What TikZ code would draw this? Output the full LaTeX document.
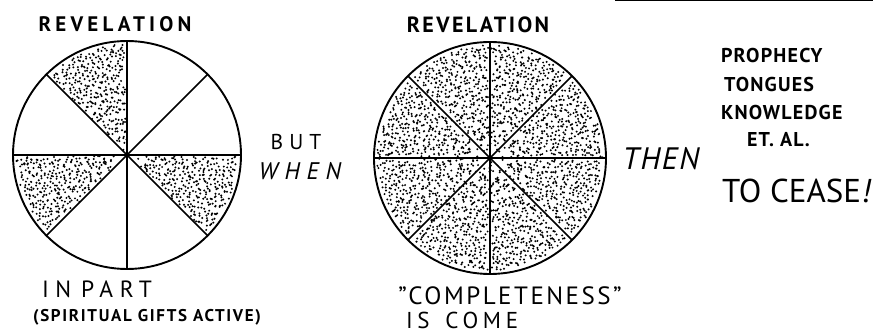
\documentclass[tikz,border=0pt]{standalone}
\usepackage{fontspec}
\setmainfont{PT Sans}
\newcommand\track[1]{\addfontfeature{LetterSpace=#1}}
\begin{document}
\begin{tikzpicture}[
  x=1pt, y=1pt,
  every node/.style={inner sep=0pt, outer sep=0pt},
  word/.style={font=\bfseries\fontsize{20}{22}\selectfont\track{6}},
  hand/.style={font=\fontsize{23}{26}\selectfont\track{18}},
  slant/.style={font=\itshape\fontsize{24}{26}\selectfont\track{28}},
  rim/.style={line width=1.9pt},
  spoke/.style={line width=1.5pt}
]
\useasboundingbox (0,0) rectangle (873,334);
\pgfmathsetseed{4711}

\coordinate (lc) at (127,179);
\coordinate (rc) at (490,176);

% stippled sectors, left circle
\foreach \a in {90,180,315} {
  \begin{scope}
    \clip (lc) -- ++(\a:113) arc[start angle=\a, end angle=\a+45, radius=113] -- cycle;
    \fill[shift={(lc)}] \foreach \k in {1,...,320}
      {({\a+1.5+42*frac(0.5+\k*0.75488+0.06*rnd)}:{111*sqrt(abs(frac(0.5+\k*0.56984+0.06*rnd)))}) circle (1.1)};
  \end{scope}
}
% right circle, every sector
\foreach \a in {0,45,...,315} {
  \begin{scope}
    \clip (rc) -- ++(\a:115) arc[start angle=\a, end angle=\a+45, radius=115] -- cycle;
    \fill[shift={(rc)}] \foreach \k in {1,...,320}
      {({\a+1.5+42*frac(0.5+\k*0.75488+0.06*rnd)}:{113*sqrt(abs(frac(0.5+\k*0.56984+0.06*rnd)))}) circle (1.1)};
  \end{scope}
}

\draw[rim] (lc) circle (114);
\draw[rim] (rc) circle (116);
\foreach \t in {0,45,...,315} {
  \draw[spoke] (lc) -- ++(\t:114);
  \draw[spoke] (rc) -- ++(\t:116);
}

\node[word, font=\bfseries\fontsize{21}{23}\selectfont\track{20}] (revl) at (115,310) {REVELATION};
\node[word, font=\bfseries\fontsize{22}{24}\selectfont\track{11}] (revr) at (478,309) {REVELATION};

\node[hand, font=\fontsize{21.5}{24}\selectfont\track{28}] (but) at (296,192.5) {BUT};
\node[slant] (when) at (300,162.5) {WHEN};

\node[hand, anchor=west, font=\fontsize{23.5}{26}\selectfont\track{28}] (part) at (42,45) {IN\hspace{10pt}PART};
\node[word, anchor=west, font=\bfseries\fontsize{17}{20}\selectfont\track{10}] (gifts) at (33,16.5) {(SPIRITUAL GIFTS ACTIVE)};

\node[hand, font=\fontsize{25}{28}\selectfont\track{10}] (complete) at (510,38) {"COMPLETENESS"};
\node[hand, anchor=west, font=\fontsize{23}{26}\selectfont\track{20}] (come) at (406,13.5) {IS\hspace{16pt}COME};

\node[slant, font=\itshape\fontsize{31}{34}\selectfont\track{5}] (then) at (661,175.5) {THEN};

\node[word, anchor=west] (proph) at (721,278) {PROPHECY};
\node[word, anchor=west] (tong) at (724,249.5) {TONGUES};
\node[word, anchor=west] (know) at (721,221) {KNOWLEDGE};
\node[word, anchor=west] (etal) at (747,194) {ET.\ AL.};
\node[hand, anchor=west, font=\fontsize{33}{36}\selectfont] (cease) at (722,143.5) {TO CEASE\textit{!}};

\draw[line width=1.5pt] (615,333.3) -- (873,333.3);
\end{tikzpicture}
\end{document}
